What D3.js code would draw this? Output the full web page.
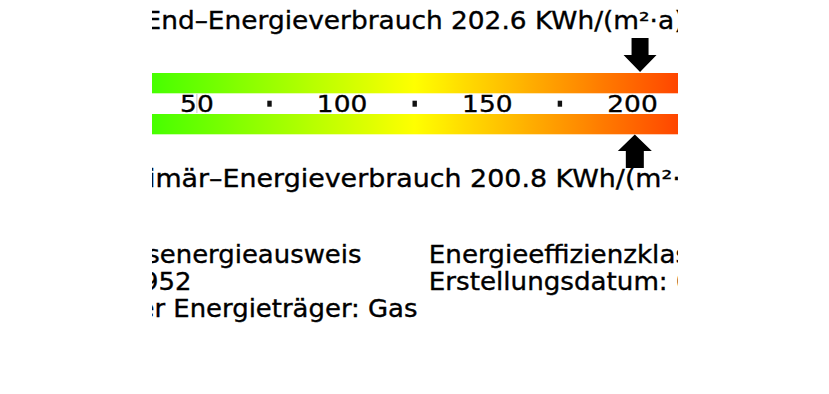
<!DOCTYPE html>
<html><head><meta charset="utf-8">
<script src="https://cdn.jsdelivr.net/npm/d3@7"></script>
<style>html,body{margin:0;padding:0;background:#fff;}svg{display:block;}</style>
</head><body>
<script>
// ---- data ----
const scaleDomain = [0, 250];
const majorTicks = [0, 50, 100, 150, 200, 250];
const minorTicks = [25, 75, 125, 175, 225];
const colorStops = [0, 125, 250];
const colorValues = ["#00ff00", "#ffff00", "#ff0000"];
const endEnergy = 202.6;
const primaryEnergy = 200.8;
const unitLabel = "KWh/(m²·a)";
const infoLeft = ["Verbrauchsenergieausweis", "Baujahr: 1952", "Wesentlicher Energieträger: Gas"];
const infoRight = ["Energieeffizienzklasse: F", "Erstellungsdatum: 01.05.2014"];

// ---- layout ----
const W = 829, H = 394;
const clipX0 = 152, clipX1 = 678;
const cx = W / 2;
const font = "'DejaVu Sans', sans-serif";

const svg = d3.select("body").append("svg").attr("width", W).attr("height", H);
const defs = svg.append("defs");
defs.append("clipPath").attr("id", "clip").append("rect")
  .attr("x", clipX0).attr("y", 0).attr("width", clipX1 - clipX0).attr("height", H);

const x = d3.scaleLinear().domain(scaleDomain).range([51.7, 51.7 + 250 * 2.904]);
const color = d3.scaleLinear().domain(colorStops).range(colorValues);

const grad = defs.append("linearGradient").attr("id", "grad")
  .attr("gradientUnits", "userSpaceOnUse")
  .attr("x1", x(scaleDomain[0])).attr("x2", x(scaleDomain[1])).attr("y1", 0).attr("y2", 0);
d3.range(0, 251, 5).forEach(v => {
  grad.append("stop").attr("offset", (v - scaleDomain[0]) / (scaleDomain[1] - scaleDomain[0]))
    .attr("stop-color", color(v));
});

const g = svg.append("g").attr("clip-path", "url(#clip)");

function stretchedText(parent, t, px, py, anchor, size, sx) {
  return parent.append("text")
    .attr("transform", `translate(${px},${py}) scale(${sx},1)`)
    .attr("text-anchor", anchor)
    .attr("font-family", font).attr("font-size", size)
    .attr("fill", "#000").attr("stroke", "#000").attr("stroke-width", 0.35)
    .text(t);
}

// title lines (centered)
const titles = [
  {t: `End–Energieverbrauch ${endEnergy} ${unitLabel}`, y: 29.3, sx: 1.10},
  {t: `Primär–Energieverbrauch ${primaryEnergy} ${unitLabel}`, y: 187.3, sx: 1.12}
];
titles.forEach(d => stretchedText(g, d.t, cx, d.y, "middle", 24, d.sx));

// bands
[73, 114].forEach(y0 => {
  g.append("rect").attr("x", x(scaleDomain[0])).attr("y", y0)
    .attr("width", x(scaleDomain[1]) - x(scaleDomain[0])).attr("height", 20.3)
    .attr("fill", "url(#grad)");
});

// marker line at 50
g.append("line").attr("x1", x(50)).attr("x2", x(50)).attr("y1", 94).attr("y2", 113)
  .attr("stroke", "#c8c8c8").attr("stroke-width", 1);

// tick labels
majorTicks.forEach(d => stretchedText(g, String(d), x(d), 112.3, "middle", 23, 1.15));

// minor tick dots
g.selectAll("rect.minor").data(minorTicks).join("rect").attr("class", "minor")
  .attr("x", d => x(d) - 2.2).attr("y", 100.7).attr("width", 4.4).attr("height", 6)
  .attr("fill", "#111");

// arrows
function downArrow(cxp) {
  const p = d3.path();
  p.moveTo(cxp - 8.5, 38); p.lineTo(cxp + 8.5, 38); p.lineTo(cxp + 8.5, 55);
  p.lineTo(cxp + 16.5, 55); p.lineTo(cxp, 72); p.lineTo(cxp - 16.5, 55);
  p.lineTo(cxp - 8.5, 55); p.closePath();
  return p.toString();
}
function upArrow(cxp) {
  const p = d3.path();
  p.moveTo(cxp, 134.5); p.lineTo(cxp + 17, 151); p.lineTo(cxp + 9, 151);
  p.lineTo(cxp + 9, 168); p.lineTo(cxp - 9, 168); p.lineTo(cxp - 9, 151);
  p.lineTo(cxp - 17, 151); p.closePath();
  return p.toString();
}
g.append("path").attr("d", downArrow(x(endEnergy))).attr("fill", "#000");
g.append("path").attr("d", upArrow(x(primaryEnergy))).attr("fill", "#000");

// info columns
const infoY = [263.3, 290, 317.3];
const leftEnds = [361.5, 191.5, 417.5];
infoLeft.forEach((t, i) => stretchedText(g, t, leftEnds[i], infoY[i], "end", 24, 1.08));
infoRight.forEach((t, i) => stretchedText(g, t, 428.8, infoY[i], "start", 24, 1.09));
</script>
</body></html>
